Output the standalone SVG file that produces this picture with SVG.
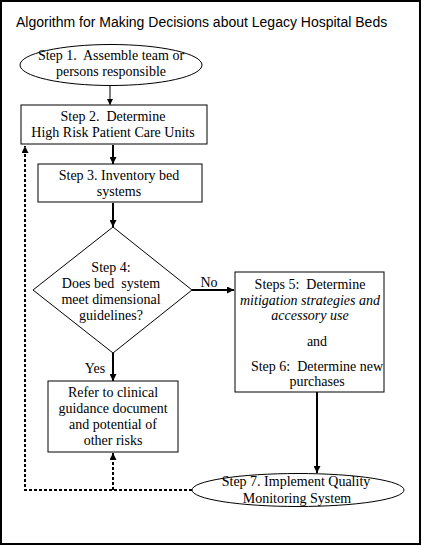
<svg xmlns="http://www.w3.org/2000/svg" width="422" height="546" viewBox="0 0 422 546">
<defs>
<marker id="ah" viewBox="0 0 6 6" refX="6" refY="3" markerWidth="6" markerHeight="6" markerUnits="userSpaceOnUse" orient="auto">
<path d="M0,0 L6,3 L0,6 z" fill="#000"/>
</marker>
<marker id="ah2" viewBox="0 0 6 6" refX="6" refY="3" markerWidth="3.5" markerHeight="3.5" orient="auto">
<path d="M0,0 L6,3 L0,6 z" fill="#000"/>
</marker>
</defs>
<style>
.shape{fill:#fff;stroke:#000;stroke-width:1}
.t{font-family:"Liberation Serif","Times New Roman",serif;font-size:14px;fill:#000;text-anchor:middle;white-space:pre}
.i{font-style:italic}
.title{font-family:"Liberation Sans",Arial,sans-serif;font-size:14px;fill:#000}
.c{fill:none;stroke:#000}
.thin{stroke-width:1}
.thick{stroke-width:2}
.dash{stroke-width:2;stroke-dasharray:3,2}
</style>
<rect x="0" y="0" width="422" height="546" fill="#fff"/>
<rect x="1" y="1" width="419" height="543" fill="none" stroke="#000" stroke-width="2"/>
<text class="title" x="16" y="27">Algorithm for Making Decisions about Legacy Hospital Beds</text>

<g id="connectors">
<line class="c thin" x1="110" y1="86" x2="110" y2="105" marker-end="url(#ah)"/>
<line class="c thick" x1="113" y1="145" x2="113" y2="164" marker-end="url(#ah2)"/>
<line class="c thick" x1="113" y1="203" x2="113" y2="227" marker-end="url(#ah2)"/>
<line class="c thick" x1="192" y1="290" x2="234" y2="290" marker-end="url(#ah2)"/>
<line class="c thick" x1="113" y1="353" x2="113" y2="381" marker-end="url(#ah2)"/>
<line class="c thick" x1="317" y1="392" x2="317" y2="473" marker-end="url(#ah2)"/>
<polyline class="c dash" points="192,490 25,490 25,146" marker-end="url(#ah2)"/>
<line class="c dash" x1="113" y1="490" x2="113" y2="453" marker-end="url(#ah2)"/>
<text class="t" x="209" y="287">No</text>
<text class="t" x="95" y="373">Yes</text>
</g>

<g id="step1">
<ellipse class="shape" cx="111" cy="65" rx="91" ry="20.5"/>
<text class="t" x="111" y="60">Step 1.  Assemble team or</text>
<text class="t" x="111" y="76">persons responsible</text>
</g>

<g id="step2">
<rect class="shape" x="21" y="105" width="186" height="39"/>
<text class="t" x="113" y="121">Step 2.  Determine</text>
<text class="t" x="113" y="137">High Risk Patient Care Units</text>
</g>

<g id="step3">
<rect class="shape" x="38" y="164" width="164" height="38"/>
<text class="t" x="119" y="180">Step 3. Inventory bed</text>
<text class="t" x="119" y="196">systems</text>
</g>

<g id="step4">
<polygon class="shape" points="113,227 192,290 113,353 33,290"/>
<text class="t" x="111" y="272">Step 4:</text>
<text class="t" x="111" y="288">Does bed  system</text>
<text class="t" x="111" y="304">meet dimensional</text>
<text class="t" x="111" y="320">guidelines?</text>
</g>

<g id="step56">
<rect class="shape" x="235" y="272" width="149" height="120"/>
<text class="t" x="310" y="289">Steps 5:  Determine</text>
<text class="t i" x="310" y="305">mitigation strategies and</text>
<text class="t i" x="310" y="320">accessory use</text>
<text class="t" x="317" y="346">and</text>
<text class="t" x="317" y="371">Step 6:  Determine new</text>
<text class="t" x="317" y="386">purchases</text>
</g>

<g id="refer">
<rect class="shape" x="48" y="381" width="130" height="71"/>
<text class="t" x="113" y="397">Refer to clinical</text>
<text class="t" x="113" y="413">guidance document</text>
<text class="t" x="113" y="429">and potential of</text>
<text class="t" x="113" y="445">other risks</text>
</g>

<g id="step7">
<ellipse class="shape" cx="298" cy="490" rx="106" ry="16.5"/>
<text class="t" x="296" y="486">Step 7. Implement Quality</text>
<text class="t" x="297" y="503">Monitoring System</text>
</g>
</svg>
